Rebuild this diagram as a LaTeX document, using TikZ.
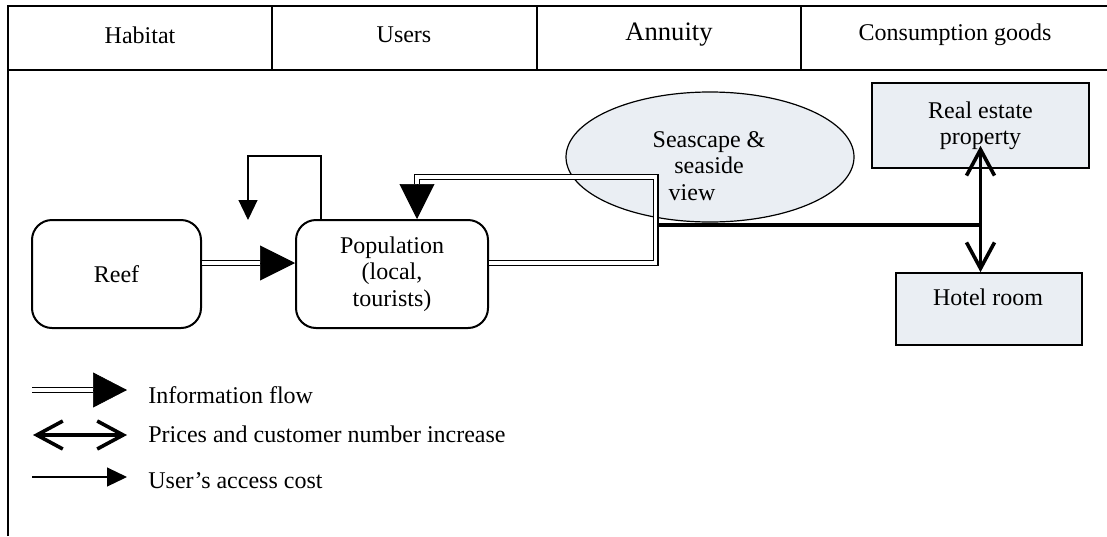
\documentclass[tikz,border=0pt]{standalone}
\usepackage{fontspec}
\setmainfont{Liberation Serif}
\usetikzlibrary{arrows.meta,shapes.geometric}
\definecolor{paleblue}{RGB}{234,238,243}
\begin{document}
\begin{tikzpicture}[x=0.5pt,y=-0.5pt,
  txt/.style={font=\fontsize{12}{13.2}\selectfont, inner sep=0pt, align=center},
  frame/.style={line width=1pt},
  roundbox/.style={txt, draw, line width=1pt, rounded corners=10pt, minimum height=54pt},
  greybox/.style={txt, draw, line width=0.8pt, fill=paleblue},
  dbl/.style={double, double distance=1.7pt, line width=0.65pt},
  bighead/.style={-{Triangle[length=17.5pt,width=17.5pt]}, line width=0.3pt},
  cost/.style={line width=0.6pt, -{Triangle[length=10pt,width=9.5pt]}},
  price/.style={line width=1.8pt, {Straight Barb[length=13pt,width=14pt]}-{Straight Barb[length=13pt,width=14pt]}},
  thickline/.style={line width=1.7pt}]
\useasboundingbox (0,0) rectangle (1107,536);

% outer frame and header row
\draw[frame] (8,536) -- (8,6) -- (1107,6);
\draw[frame] (8,70) -- (1107,70);
\foreach \xx in {272,537,801} \draw[frame] (\xx,6) -- (\xx,70);
\node[txt] (hHabitat) at (140,35) {Habitat};
\node[txt] (hUsers) at (404,35) {Users};
\node[txt, font=\fontsize{13.3}{15}\selectfont] (hAnnuity) at (669,35) {Annuity};
\node[txt] (hGoods) at (955,35) {Consumption goods};

% nodes
\node[roundbox, minimum width=84.5pt] (reef) at (116.5,274) {Reef};
\node[roundbox, minimum width=96pt] (pop) at (392,274) {Population\\(local,\\tourists)};
\node[draw, ellipse, line width=0.6pt, fill=paleblue, inner sep=0pt,
      minimum width=144pt, minimum height=65pt] (sea) at (710,157) {};
\node[txt] (seatext) at (709,166) {Seascape \&\\seaside\\view\hspace*{17pt}};
\node[greybox, minimum width=108.5pt, minimum height=42.5pt] (re) at (980.5,125.5) {Real estate\\property};
\node[greybox, minimum width=93pt, minimum height=36pt] (hotel) at (989,309) {};
\node[txt] (hoteltext) at (988,297) {Hotel room};

% waypoints
\coordinate (loopR) at (655.5,177);
\coordinate (tap) at (657,225);
\coordinate (loopL) at (248,156);
\coordinate (loopend) at (248,220);

% information flow: reef -> population
\draw[dbl] ([yshift=5.5pt]reef.east) -- ([xshift=-17.5pt,yshift=5.5pt]pop.west);
\draw[bighead] ([xshift=-17.5pt,yshift=5.5pt]pop.west) -- ([yshift=5.5pt]pop.west);

% information flow: population -> seascape -> population
\draw[dbl] ([yshift=5.5pt]pop.east) -| (loopR) -- ([xshift=12.5pt]pop.north |- loopR)
  -- ([xshift=12.5pt,yshift=17.5pt]pop.north);
\draw[bighead] ([xshift=12.5pt,yshift=17.5pt]pop.north) -- ([xshift=12.5pt]pop.north);

% user's access cost loop
\draw[cost] ([xshift=-35.5pt]pop.north) |- (loopL) -- (loopend);

% prices and customer numbers
\draw[thickline] (tap) -- (re.south |- tap);
\draw[price] ([yshift=11.5pt]re.south) -- (re.south |- hotel.north);

% legend
\coordinate (l1a) at (32,390);
\coordinate (l1m) at (93,390);
\coordinate (l1b) at (127,390);
\draw[dbl] (l1a) -- (l1m);
\draw[-{Triangle[length=17pt,width=17.5pt]}, line width=0.3pt] (l1m) -- (l1b);
\node[txt, anchor=base west] (l1t) at (148,403) {Information flow};

\coordinate (l2a) at (33,435);
\coordinate (l2b) at (127,435);
\draw[price] (l2a) -- (l2b);
\node[txt, anchor=base west] (l2t) at (148,442) {Prices and customer number increase};

\coordinate (l3a) at (32,477);
\coordinate (l3b) at (127,477);
\draw[cost] (l3a) -- (l3b);
\node[txt, anchor=base west] (l3t) at (148,488) {User’s access cost};
\end{tikzpicture}
\end{document}
